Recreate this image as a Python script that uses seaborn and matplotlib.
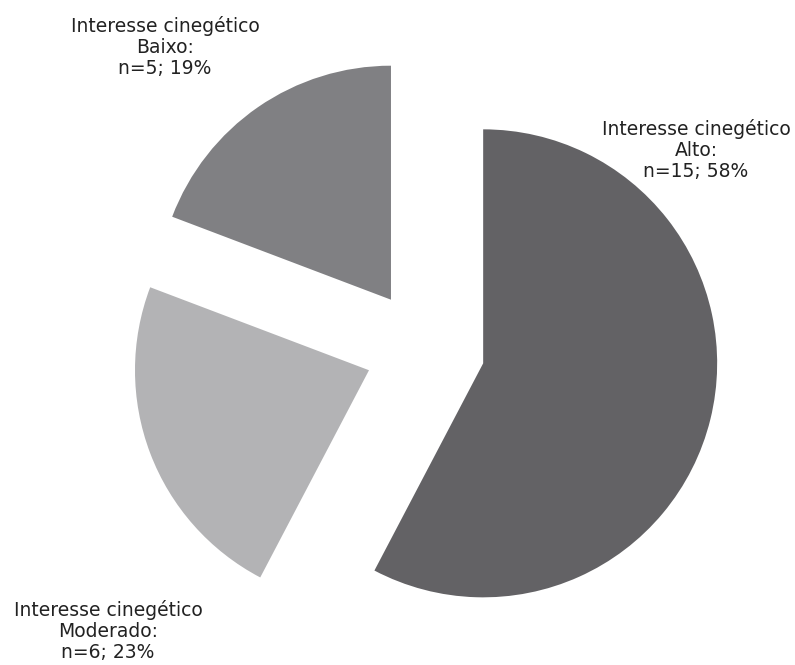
import matplotlib
matplotlib.use("Agg")
import matplotlib.pyplot as plt
import seaborn as sns

# Interesse cinegético das espécies registadas
categorias = ["Alto", "Moderado", "Baixo"]
contagens = [15, 6, 5]
percentagens = [58, 23, 19]
cores = ["#636265", "#b3b3b5", "#808083"]

sns.set_theme(style="white")
plt.rcParams["font.family"] = ["DejaVu Sans"]

W, H = 795, 665
fig = plt.figure(figsize=(W / 100, H / 100), dpi=100)
ax = fig.add_axes([0, 0, 1, 1])

raio = 234
centro = (425, 316)
afastamento = 0.256 * raio  # todas as fatias destacadas do centro
ax.pie(
    contagens,
    colors=cores,
    startangle=90,
    counterclock=False,
    explode=[afastamento] * len(contagens),
    radius=raio,
    center=centro,
    wedgeprops=dict(linewidth=0),
)

# posições dos rótulos (centro do bloco de texto)
pos_rotulos = {"Alto": (696, 515), "Moderado": (108, 34), "Baixo": (165, 618)}
for cat, n, p in zip(categorias, contagens, percentagens):
    x, y = pos_rotulos[cat]
    ax.text(x, y, f"Interesse cinegético\n{cat}:\nn={n}; {p}%",
            ha="center", va="center", fontsize=13.5, color="#222222",
            linespacing=1.15)

ax.set_xlim(0, W)
ax.set_ylim(0, H)
ax.set_aspect("equal")
ax.axis("off")

fig.savefig("out.png", dpi=100, facecolor="white")
